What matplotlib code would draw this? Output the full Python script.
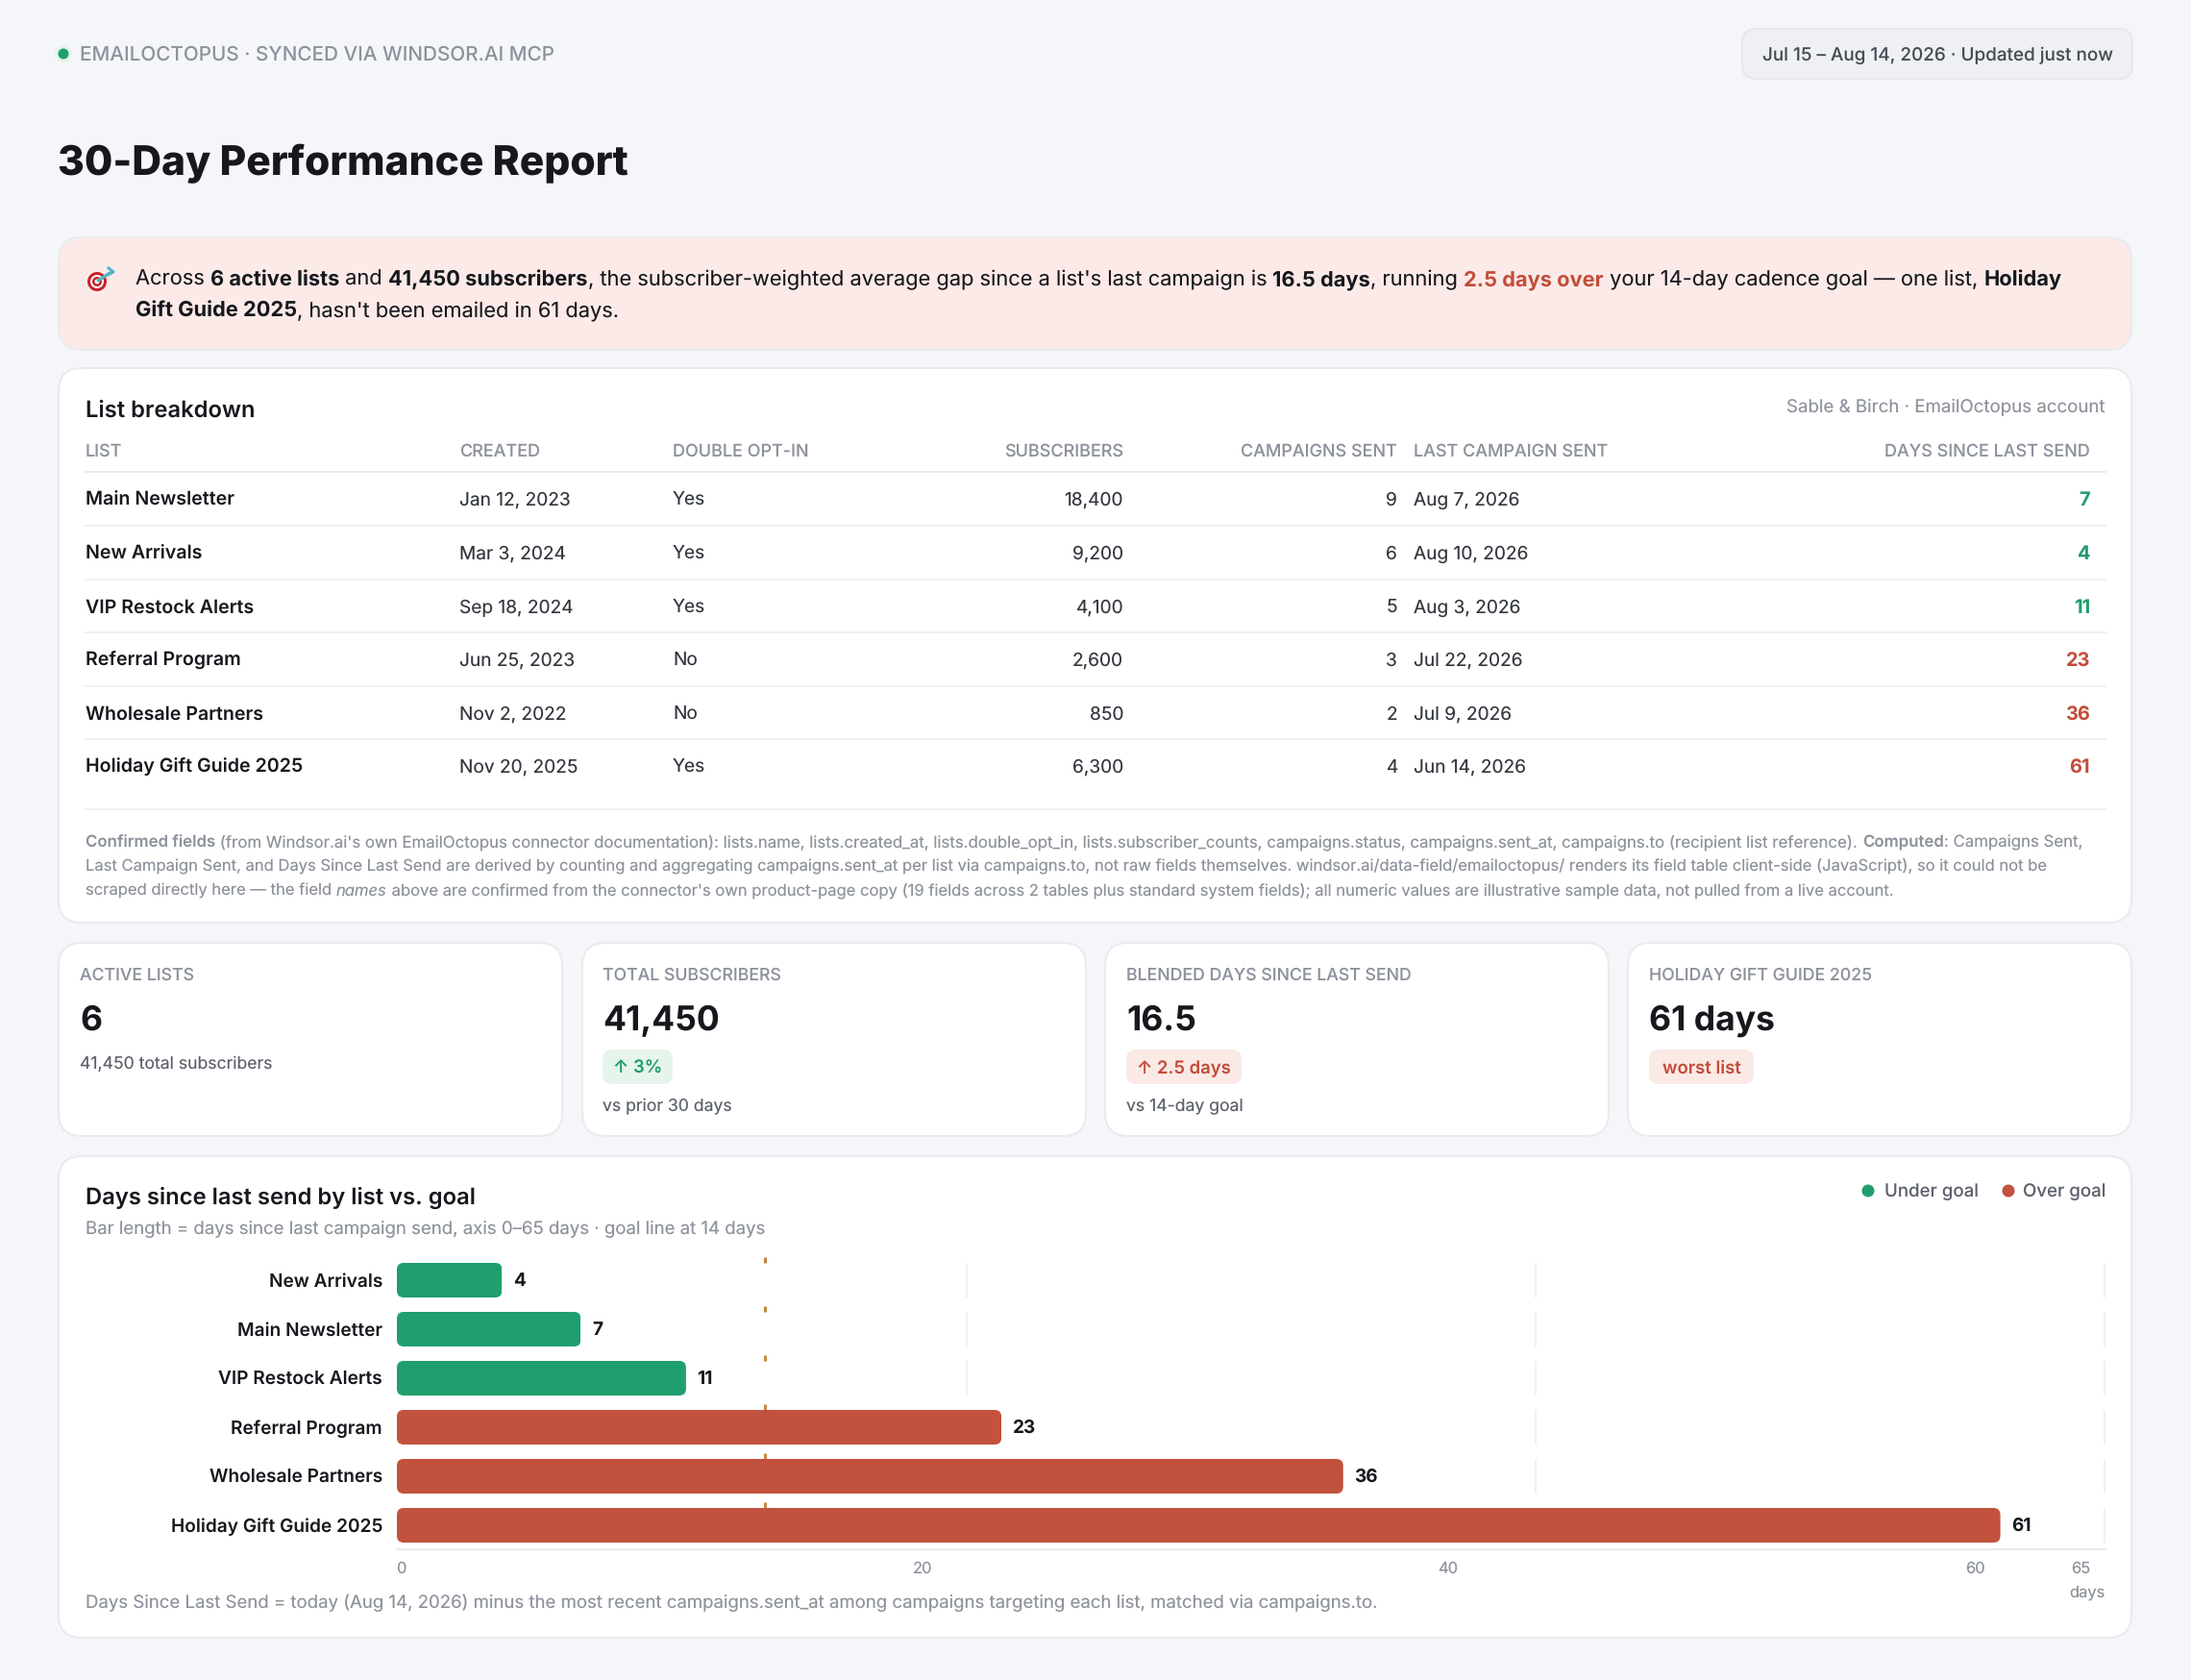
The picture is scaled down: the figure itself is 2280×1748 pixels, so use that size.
import numpy as np
import matplotlib
matplotlib.use("Agg")
import matplotlib.pyplot as plt
from matplotlib.patches import FancyBboxPatch, Circle

plt.rcParams['font.family'] = ['Inter', 'DejaVu Sans']
plt.rcParams['text.hinting'] = 'no_hinting'
plt.rcParams['text.hinting_factor'] = 1

# table data
lists = ["Main Newsletter", "New Arrivals", "VIP Restock Alerts", "Referral Program", "Wholesale Partners", "Holiday Gift Guide 2025"]
created = ["Jan 12, 2023", "Mar 3, 2024", "Sep 18, 2024", "Jun 25, 2023", "Nov 2, 2022", "Nov 20, 2025"]
double_opt = ["Yes", "Yes", "Yes", "No", "No", "Yes"]
subscribers = [18400, 9200, 4100, 2600, 850, 6300]
campaigns = [9, 6, 5, 3, 2, 4]
last_sent = ["Aug 7, 2026", "Aug 10, 2026", "Aug 3, 2026", "Jul 22, 2026", "Jul 9, 2026", "Jun 14, 2026"]
days_since = [7, 4, 11, 23, 36, 61]

# chart data, sorted the way the page shows it
chart_lists = ["New Arrivals", "Main Newsletter", "VIP Restock Alerts", "Referral Program", "Wholesale Partners", "Holiday Gift Guide 2025"]
chart_days = [4, 7, 11, 23, 36, 61]
goal = 14
axis_max = 65
tick_labels = ["0", "20", "40", "60", "65"]

INK = "#16181d"
GREY = "#8d929c"
MID = "#5c616b"
GREEN = "#209f6e"
RED = "#c2513d"
RED_TXT = "#c24d39"
GREEN_TXT = "#1f9d6c"
LINE = "#e9ebef"
BG = "#f5f6fa"

W, H = 2280, 1748
fig = plt.figure(figsize=(W / 100, H / 100), dpi=100, facecolor=BG)

# whole page in pixel coordinates
bg = fig.add_axes([0, 0, 1, 1])
bg.set_xlim(0, W)
bg.set_ylim(H, 0)
bg.axis("off")
renderer = fig.canvas.get_renderer()


def px(s):
    return s * 0.72


# y with center=True is the middle of the capitals, so lines keep one baseline
def txt(x, y, s, size, color=INK, weight="normal", ha="left", center=False, style="normal"):
    if center:
        y = y + 0.36 * size
    return bg.text(x, y, s, fontsize=px(size), color=color, fontweight=weight, ha=ha, va="baseline", fontstyle=style)


def advance(s, size, weight, style):
    a = bg.text(0, 0, s + "|", fontsize=px(size), fontweight=weight, fontstyle=style)
    b = bg.text(0, 0, "|", fontsize=px(size), fontweight=weight, fontstyle=style)
    w = a.get_window_extent(renderer).width - b.get_window_extent(renderer).width
    a.remove()
    b.remove()
    return w


# one line made of several styled pieces
def runs(x, y, parts, size, color):
    for p in parts:
        s = p[0]
        weight = p[1] if len(p) > 1 else "normal"
        c = p[2] if len(p) > 2 else color
        style = p[3] if len(p) > 3 else "normal"
        txt(x, y, s, size, c, weight, style=style)
        x += advance(s, size, weight, style)


def card(x0, y0, x1, y1, face="white", edge=LINE, r=24, lw=1.5):
    bg.add_patch(FancyBboxPatch((x0, y0), x1 - x0, y1 - y0, boxstyle="round,pad=0,rounding_size=%d" % r,
                                fc=face, ec=edge, lw=lw))


# header
bg.add_patch(Circle((66, 56), 9, fc="#e3f5ec", ec="none"))
bg.add_patch(Circle((66, 56), 5.5, fc=GREEN, ec="none"))
txt(83, 62.5, "EMAILOCTOPUS · SYNCED VIA WINDSOR.AI MCP", 20.7, GREY, "medium")
card(1813, 30, 2219, 82, face="#eff0f4", edge="#e6e8ec", r=14)
txt(2016, 56, "Jul 15 – Aug 14, 2026 · Updated just now", 18.9, "#474c55", "medium", ha="center", center=True)
txt(60, 182, "30-Day Performance Report", 42.5, INK, 800)

# alert
card(61, 247, 2218, 364, face="#fceae8", edge="#eaeaee", r=24)
bg.add_patch(Circle((101, 293), 10, fc="#c8222a", ec="none"))
bg.add_patch(Circle((101, 293), 7, fc="white", ec="none"))
bg.add_patch(Circle((101, 293), 5, fc="#c8222a", ec="none"))
bg.add_patch(Circle((101, 293), 2.5, fc="white", ec="none"))
bg.plot([102, 114], [292, 284], color="#4fb6c6", lw=2.2, solid_capstyle="round")
bg.plot([113, 118, 112], [279, 283, 286], color="#4fb6c6", lw=2.2)
runs(141, 297, [("Across ",), ("6 active lists", "bold"), (" and ",), ("41,450 subscribers", "bold"),
                (", the subscriber-weighted average gap since a list's last campaign is ",), ("16.5 days", "bold"),
                (", running ",), ("2.5 days over", "bold", RED_TXT), (" your 14-day cadence goal — one list, ",),
                ("Holiday", "bold")], 21.85, INK)
runs(141, 329, [("Gift Guide 2025", "bold"), (", hasn't been emailed in 61 days.",)], 21.85, INK)

# table card
card(61, 383, 2218, 960)
txt(89, 434, "List breakdown", 23.8, INK, "semibold")
txt(2191, 421.5, "Sable & Birch · EmailOctopus account", 18.7, GREY, ha="right", center=True)
heads = [(89, "LIST", "left"), (478, "CREATED", "left"), (700, "DOUBLE OPT-IN", "left"), (1169, "SUBSCRIBERS", "right"),
         (1454, "CAMPAIGNS SENT", "right"), (1471, "LAST CAMPAIGN SENT", "left"), (2175, "DAYS SINCE LAST SEND", "right")]
for x, s, a in heads:
    txt(x, 468.5, s, 18, GREY, "medium", ha=a, center=True)
bg.plot([89, 2191], [491, 491], color=LINE, lw=1.5)

for i in range(len(lists)):
    y = 519.5 + 55.6 * i
    # same baseline for every cell of a row
    base = round(y + 7)
    txt(89, base, lists[i], 19.6, INK, "semibold")
    txt(478, base, created[i], 19.1, "#33373f")
    txt(700, base, double_opt[i], 19.1, "#33373f")
    txt(1169, base, format(subscribers[i], ","), 19.1, "#33373f", ha="right")
    txt(1454, base, str(campaigns[i]), 19.1, "#33373f", ha="right")
    txt(1471, base, last_sent[i], 19.1, "#33373f")
    c = GREEN_TXT if days_since[i] < goal else RED_TXT
    txt(2175, base, str(days_since[i]), 20, c, "bold", ha="right")
    if i < len(lists) - 1:
        bg.plot([89, 2191], [y + 27.5, y + 27.5], color="#eff0f3", lw=1.5)
bg.plot([89, 2191], [842, 842], color="#eff0f3", lw=1.5)

runs(89, 881.5, [("Confirmed fields", "semibold"),
                 (" (from Windsor.ai's own EmailOctopus connector documentation): lists.name, lists.created_at, lists.double_opt_in, lists.subscriber_counts, campaigns.status, campaigns.sent_at, campaigns.to (recipient list reference). ",),
                 ("Computed", "semibold"), (": Campaigns Sent,",)], 16.8, GREY)
txt(89, 906.5, "Last Campaign Sent, and Days Since Last Send are derived by counting and aggregating campaigns.sent_at per list via campaigns.to, not raw fields themselves. windsor.ai/data-field/emailoctopus/ renders its field table client-side (JavaScript), so it could not be", 16.6, GREY)
runs(89, 932, [("scraped directly here — the field ",), ("names", "normal", GREY, "italic"),
               (" above are confirmed from the connector's own product-page copy (19 fields across 2 tables plus standard system fields); all numeric values are illustrative sample data, not pulled from a live account.",)], 16.6, GREY)

# KPI cards
kpi_x = [(61, 585), (606, 1130), (1150, 1674), (1694, 2218)]
kpi_text_x = [83, 627, 1172, 1716]
kpi_label = ["ACTIVE LISTS", "TOTAL SUBSCRIBERS", "BLENDED DAYS SINCE LAST SEND", "HOLIDAY GIFT GUIDE 2025"]
kpi_value = ["6", "41,450", "16.5", "61 days"]
kpi_badge = [None, "↑ 3%", "↑ 2.5 days", "worst list"]
kpi_badge_w = [0, 73, 120, 109]
kpi_note = ["41,450 total subscribers", "vs prior 30 days", "vs 14-day goal", None]
for i in range(4):
    x0, x1 = kpi_x[i]
    card(x0, 981, x1, 1182)
    tx = kpi_text_x[i]
    txt(tx, 1013.5, kpi_label[i], 17.7, GREY, "medium", center=True)
    txt(tx, 1072, kpi_value[i], 35.5, INK, "bold")
    if kpi_badge[i]:
        good = i == 1
        card(tx, 1092, tx + kpi_badge_w[i], 1128, face="#e5f5ec" if good else "#fbe9e6", edge="none", r=10, lw=0)
        txt(tx + kpi_badge_w[i] / 2, 1110, kpi_badge[i], 18.5, GREEN_TXT if good else RED_TXT, "semibold", ha="center", center=True)
        if kpi_note[i]:
            txt(tx, 1150, kpi_note[i], 17.6, MID, center=True)
    else:
        txt(tx, 1106, kpi_note[i], 17.6, MID, center=True)

# chart card
card(61, 1203, 2218, 1704)
txt(89, 1252.5, "Days since last send by list vs. goal", 23.8, INK, "semibold")
txt(89, 1277, "Bar length = days since last campaign send, axis 0–65 days · goal line at 14 days", 18.6, GREY, center=True)
bg.add_patch(Circle((1944, 1239), 6.5, fc=GREEN, ec="none"))
txt(1961, 1238, "Under goal", 18.7, MID, "medium", center=True)
bg.add_patch(Circle((2090, 1239), 6.5, fc=RED, ec="none"))
txt(2191, 1238, "Over goal", 18.7, MID, "medium", ha="right", center=True)
txt(89, 1666, "Days Since Last Send = today (Aug 14, 2026) minus the most recent campaigns.sent_at among campaigns targeting each list, matched via campaigns.to.", 18.6, GREY, center=True)
txt(2191, 1656, "days", 16.5, GREY, ha="right", center=True)

# chart itself, in data units
ax_l, ax_r, ax_t, ax_b = 413, 2191, 1300, 1612
ax = fig.add_axes([ax_l / W, 1 - ax_b / H, (ax_r - ax_l) / W, (ax_b - ax_t) / H])
ax.patch.set_alpha(0)
ax.set_xlim(0, axis_max)
ax.set_ylim(5.49, -0.627)
pos = np.arange(len(chart_days))
row_h = 36 / 51
cols = [GREEN if d < goal else RED for d in chart_days]

# the page draws grid and goal only in pieces around each row
for p in pos:
    ax.vlines([axis_max / 3, axis_max * 2 / 3, axis_max - 0.02], p - row_h / 2, p + row_h / 2, color="#eeeff2", lw=1.2, zorder=1)
    ax.vlines(goal, p - row_h / 2 - 0.115, p - row_h / 2, color="#c48a42", lw=2.2, zorder=1)

bars = ax.barh(pos, chart_days, height=row_h, color=cols, zorder=2)
for b in bars:
    round_box = FancyBboxPatch((b.get_x(), b.get_y()), b.get_width(), b.get_height(),
                               boxstyle="round,pad=0,rounding_size=0.26", mutation_aspect=27.35 / 51,
                               transform=ax.transData)
    b.set_clip_path(round_box)
for p, d in zip(pos, chart_days):
    ax.text(d + 0.42, p - 0.02, str(d), fontsize=px(19), fontweight="bold", color=INK, va="center_baseline", ha="left")

# tick labels sit where the page spreads them, not under their values
ax.set_xticks([0.15, 20, 40, 60.05, 64.05], tick_labels, fontsize=px(16.5), color=GREY)
ax.tick_params(axis="x", length=0, pad=px(13))
ax.set_yticks(pos, chart_lists, fontsize=px(19.1), fontweight="semibold", color=INK, va="center_baseline")
ax.tick_params(axis="y", length=0, pad=px(15))
for s in ["top", "left", "right"]:
    ax.spines[s].set_visible(False)
ax.spines["bottom"].set_color(LINE)
ax.spines["bottom"].set_linewidth(1.5)

fig.savefig("out.png", dpi=100, facecolor=BG)
